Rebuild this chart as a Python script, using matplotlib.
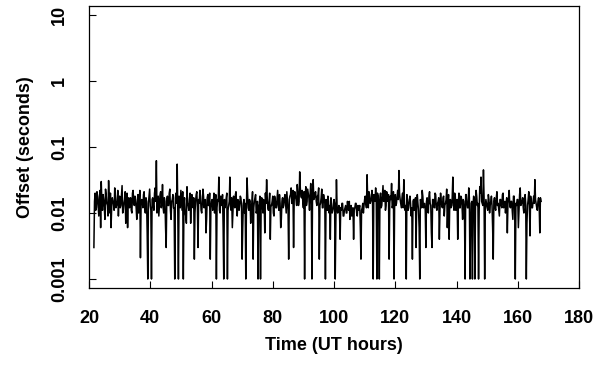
import numpy as np
import matplotlib
matplotlib.use("Agg")
import matplotlib.pyplot as plt

plt.rcParams['font.family'] = ['Liberation Sans', 'DejaVu Sans']
plt.rcParams['font.weight'] = 'bold'

# sampling: start hour and step (hours); band samples sit halfway between
t_start = 21.6
t_step = 0.4

# clock offset in milliseconds (samples carrying the spikes)
offset_ms = [
    3, 20, 12, 18, 9, 22, 30, 11, 16, 8,
    19, 13, 31, 10, 6, 17, 14, 24, 12, 15,
    9, 18, 13, 26, 11, 16, 7, 20, 14, 12,
    17, 10, 22, 13, 15, 8, 19, 14, 2.1, 16,
    12, 21, 10, 15, 1, 18, 13, 1, 17, 11,
    24, 62, 14, 9, 19, 12, 27, 10, 15, 3,
    18, 13, 23, 8, 16, 12, 1, 20, 55, 1,
    14, 22, 11, 1, 17, 9, 25, 13, 16, 7,
    19, 12, 2, 15, 21, 3, 14, 18, 10, 23,
    12, 16, 8, 19, 13, 2, 15, 11, 20, 13,
    1, 16, 35, 10, 14, 19, 1, 12, 17, 1,
    13, 35, 11, 6, 18, 12, 21, 9, 15, 13,
    17, 2, 14, 10, 1, 34, 12, 16, 7, 14,
    2, 15, 19, 11, 1, 13, 1, 17, 10, 14,
    20, 32, 12, 15, 4, 13, 18, 9, 16, 12,
    22, 11, 14, 8, 17, 13, 19, 10, 15, 2,
    18, 24, 14, 3, 21, 16, 27, 13, 42, 18,
    22, 12, 1, 25, 15, 20, 11, 28, 1, 32,
    17, 21, 13, 19, 2, 14, 23, 12, 16, 1,
    13, 18, 10, 4, 14, 11, 16, 1, 32, 10,
    13, 4, 11, 14, 9, 12, 10, 15, 11, 8,
    13, 10, 4, 12, 14, 9, 11, 13, 2, 12,
    10, 16, 14, 38, 12, 19, 15, 22, 1, 17,
    24, 1, 18, 1, 20, 13, 26, 16, 11, 21,
    15, 2, 18, 28, 13, 1, 19, 14, 22, 44,
    16, 12, 20, 32, 11, 1, 15, 12, 18, 9,
    2, 16, 13, 3, 19, 11, 1, 15, 22, 12,
    14, 3, 17, 10, 21, 13, 3, 16, 12, 19,
    11, 15, 4, 20, 13, 17, 9, 14, 23, 12,
    4, 16, 13, 35, 11, 18, 14, 4, 20, 12,
    17, 8, 15, 1, 19, 12, 24, 1, 14, 1,
    18, 1, 22, 13, 1, 25, 35, 14, 45, 1,
    16, 12, 19, 10, 15, 13, 2, 17, 11, 21,
    14, 9, 16, 12, 20, 13, 10, 17, 14, 22,
    12, 15, 8, 18, 1, 13, 16, 11, 24, 14,
    17, 10, 19, 1, 13, 21, 4.5, 15, 12, 18,
    32, 14, 11, 17, 5, 15,
]

# in-between band samples (milliseconds)
band_ms = [
    15, 11, 21, 13, 17, 6, 14, 19, 12, 23,
    14, 9, 16, 20, 12, 15, 11, 18, 13, 22,
    16, 12, 19, 10, 14, 21, 13, 6, 17, 15,
    11, 20, 14, 18, 12, 16, 10, 22, 13, 15,
    19, 12, 17, 5, 14, 23, 11, 16, 13, 20,
    15, 10, 18, 13, 21, 14, 12, 17, 6, 16,
    13, 20, 11, 15, 19, 12, 17, 14, 10, 18,
    12, 16, 21, 13, 10, 7, 14, 11, 20, 15,
    13, 17, 10, 19, 12, 16, 22, 11, 14, 18,
    15, 5, 17, 13, 20, 12, 16, 14, 10, 19,
    12, 15, 11, 18, 13, 6, 16, 14, 20, 11,
    15, 13, 17, 10, 14, 19, 12, 16, 11, 18,
    13, 6, 16, 14, 12, 19, 11, 15, 13, 21,
    12, 17, 10, 15, 13, 18, 11, 14, 16, 5,
    14, 17, 11, 20, 13, 15, 10, 18, 12, 16,
    13, 19, 6, 15, 12, 17, 14, 21, 11, 16,
    19, 14, 22, 16, 18, 13, 20, 15, 24, 17,
    15, 21, 18, 13, 23, 17, 19, 14, 22, 16,
    20, 15, 18, 24, 13, 17, 12, 19, 14, 16,
    11, 15, 13, 17, 10, 12, 14, 7, 13, 11,
    10, 12, 14, 9, 11, 13, 10, 12, 15, 11,
    9, 12, 11, 14, 10, 13, 12, 6, 11, 14,
    13, 18, 12, 16, 21, 14, 17, 13, 19, 15,
    16, 20, 14, 17, 12, 18, 15, 22, 13, 17,
    19, 14, 16, 12, 21, 15, 13, 18, 16, 20,
    14, 17, 12, 15, 13, 19, 11, 16, 14, 12,
    15, 11, 17, 13, 14, 6, 16, 12, 18, 13,
    11, 15, 12, 18, 14, 5, 16, 13, 20, 12,
    14, 17, 11, 15, 12, 18, 13, 16, 6, 19,
    15, 12, 17, 13, 20, 11, 16, 14, 12, 18,
    13, 16, 11, 19, 14, 12, 17, 5, 15, 13,
    16, 12, 18, 14, 11, 20, 15, 13, 17, 12,
    14, 11, 16, 13, 18, 6, 15, 12, 17, 13,
    11, 16, 13, 19, 12, 15, 14, 5, 17, 13,
    15, 11, 18, 12, 14, 16, 6, 19, 13, 15,
    12, 17, 14, 7, 16, 13, 18, 12, 15, 14,
    16, 12, 15, 13, 17,
]

x_ticks = [20, 40, 60, 80, 100, 120, 140, 160, 180]
y_ticks = [0.001, 0.01, 0.1, 1, 10]
y_tick_labels = ['0.001', '0.01', '0.1', '1', '10']

n = len(offset_ms)
nb = len(band_ms)
t_main = t_start + t_step * np.arange(n)
t_band = t_start + t_step * (np.arange(nb) + 0.5)
hours = np.concatenate([t_main, t_band])
vals = np.concatenate([np.array(offset_ms, float), np.array(band_ms, float)])
order = np.argsort(hours, kind='stable')
hours = hours[order]
offset_s = vals[order] / 1000.0

fig = plt.figure(figsize=(6.02, 3.66), dpi=100)
ax = fig.add_axes([89/602, 1 - 288/366, 490/602, 282/366])

ax.plot(hours, offset_s, color='black', lw=1.1)

ax.set_yscale('log')
ax.set_xlim(20, 180)
ax.set_ylim(10 ** (-3 - 9/66), 10 ** (1 + 9/66))

ax.set_xticks(x_ticks)
ax.set_xticklabels([str(v) for v in x_ticks])
ax.set_yticks(y_ticks)
ax.set_yticklabels(y_tick_labels)
ax.minorticks_off()

ax.tick_params(axis='both', direction='in', length=5, width=0.8,
               labelsize=13, colors='black')
ax.tick_params(axis='x', pad=16)
ax.tick_params(axis='y', pad=15)
for lab in ax.get_yticklabels():
    lab.set_rotation(90)
    lab.set_va('center')
    lab.set_ha('right')
    lab.set_fontweight('bold')
for lab in ax.get_xticklabels():
    lab.set_fontweight('bold')

for sp in ax.spines.values():
    sp.set_linewidth(0.9)
    sp.set_color('black')

ax.set_xlabel('Time (UT hours)', fontsize=13, fontweight='bold', va='center')
ax.xaxis.set_label_coords(0.5, (288 - 346) / 282)
ax.set_ylabel('Offset (seconds)', fontsize=13, fontweight='bold', va='center')
ax.yaxis.set_label_coords((25 - 89) / 490, 0.5)

fig.savefig('out.png', dpi=100)
